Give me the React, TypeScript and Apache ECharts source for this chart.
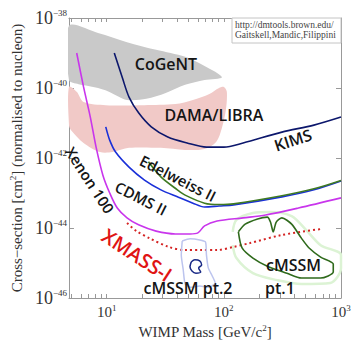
import React, { useEffect, useRef } from 'react';
import * as echarts from 'echarts';

// ---- axes ----
const X_MIN_GEV = 4.76;
const X_MAX_GEV = 1000;
const Y_MIN_EXP = -46;
const Y_MAX_EXP = -38;
const xLabelMasses = [10, 100, 1000];
const xTickMasses = [5, 6, 7, 8, 9, 10, 20, 30, 40, 50, 60, 70, 80, 90, 100, 200, 300, 400, 500, 600, 700, 800, 900, 1000];

// ---- regions (mass in GeV, log10 of cross-section in cm^2) ----
const cogentMass = [4.76, 8.43, 14.9, 26.4, 46.7, 68.4, 96.2, 68.4, 46.7, 31.9, 21.8, 14.9, 10.2, 8.43, 6.96, 5.75, 4.76];
const cogentLogSigma = [-38.23, -38.43, -38.69, -38.91, -39.11, -39.37, -39.69, -39.77, -39.91, -40.14, -40.31, -40.34, -40.09, -40.0, -39.94, -39.89, -39.77];

const damaMass = [4.76, 5.54, 6.34, 9.81, 21.0, 38.6, 54.4, 75.2, 90.9, 100, 106, 104, 96.2, 85.9, 68.4, 46.7, 29.0, 15.5, 11.2, 8.75, 6.34, 4.94, 4.76];
const damaLogSigma = [-39.97, -40.11, -40.4, -40.49, -40.49, -40.46, -40.34, -40.17, -40.0, -39.97, -40.11, -40.63, -41.14, -41.54, -41.74, -41.77, -41.71, -41.71, -41.83, -41.83, -41.57, -41.2, -41.06];

// ---- exclusion curves ----
const kimsMass = [11.6, 13.6, 15.5, 18.7, 24.0, 33.2, 48.5, 71.0, 100, 146, 313, 587, 1000];
const kimsLogSigma = [-39.0, -39.71, -40.26, -40.71, -41.11, -41.4, -41.57, -41.69, -41.69, -41.57, -41.26, -41.06, -40.83];

const xenonMass = [5.54, 6.34, 7.24, 8.11, 9.27, 10.6, 12.3, 14.9, 18.7, 26.4, 38.6, 51.4, 60.0, 68.4, 87.5, 146, 227, 433, 1000];
const xenonLogSigma = [-39.0, -39.97, -40.83, -41.69, -42.49, -43.0, -43.43, -43.71, -43.91, -44.09, -44.17, -44.17, -44.14, -43.94, -43.8, -43.71, -43.63, -43.43, -43.14];

const cdmsMass = [9.81, 10.6, 11.9, 15.5, 21.0, 29.0, 40.1, 54.4, 68.4, 90.9, 121, 313, 587, 1000];
const cdmsLogSigma = [-41.11, -41.49, -41.83, -42.26, -42.63, -42.91, -43.11, -43.29, -43.4, -43.37, -43.34, -43.11, -42.91, -42.66];

const edelweissMass = [22.7, 29.0, 40.1, 46.7, 68.4, 90.9, 121, 313, 587, 1000];
const edelweissLogSigma = [-42.11, -42.54, -42.91, -43.06, -43.29, -43.33, -43.31, -43.08, -42.88, -42.64];

const xmassMass = [14.9, 18.0, 23.1, 33.8, 46.7, 64.6, 87.5, 121, 167, 313, 670];
const xmassLogSigma = [-43.86, -44.09, -44.29, -44.54, -44.63, -44.63, -44.63, -44.54, -44.43, -44.2, -44.03];

// ---- cMSSM contours ----
const pt1Mass = [133, 152, 194, 235, 250, 264, 280, 313, 379, 459, 534, 670, 859, 859, 670, 459, 345, 235, 177, 143, 133];
const pt1LogSigma = [-44.11, -43.89, -43.74, -43.69, -43.83, -44.11, -43.83, -43.71, -43.89, -44.29, -44.57, -44.83, -45.03, -45.26, -45.43, -45.43, -45.29, -45.09, -44.86, -44.57, -44.11];

const pt1HaloMass = [119, 128, 177, 250, 379, 505, 670, 1000, 1000, 811, 459, 285, 177, 128, 119];
const pt1HaloLogSigma = [-44.11, -43.77, -43.57, -43.54, -43.66, -44.06, -44.49, -44.77, -45.14, -45.57, -45.6, -45.49, -45.29, -44.86, -44.49];

const pt2Mass = [44.1, 51.4, 62.2, 69.7, 71.0, 73.6, 79.6, 84.3, 75.2, 62.2, 51.4, 46.7, 45.0, 43.3, 44.1];
const pt2LogSigma = [-44.37, -44.31, -44.34, -44.4, -44.77, -45.14, -45.37, -45.57, -45.69, -45.66, -45.69, -45.6, -45.2, -44.77, -44.37];

const pt2CoreMass = [52.6, 56.5, 62.2, 64.6, 60.9, 63.4, 57.7, 53.4, 51.4, 52.6];
const pt2CoreLogSigma = [-44.97, -44.91, -44.94, -45.06, -45.14, -45.26, -45.29, -45.23, -45.11, -44.97];

const lg = Math.log10;
const toPts = (m: number[], s: number[]) => m.map((v, i) => [lg(v), s[i]]);

const SERIF = '"Liberation Serif", "Times New Roman", serif';
const SANS = '"Open Sans", "Noto Sans", sans-serif';

function regionSeries(name: string, pts: number[][], fill: string) {
  return {
    type: 'custom',
    name,
    silent: true,
    clip: true,
    data: [pts[0]],
    renderItem: (_p: any, api: any) => ({
      type: 'polygon',
      shape: { points: pts.map((p) => api.coord(p)), smooth: 0.3 },
      style: { fill, stroke: 'none' },
    }),
  };
}

function lineSeries(name: string, pts: number[][], color: string, width: number, type: any = 'solid', smooth = 0.3) {
  return {
    type: 'line',
    name,
    silent: true,
    data: pts,
    symbol: 'none',
    smooth,
    lineStyle: { color, width, type },
  };
}

const supRich = {
  b: { fontSize: 18, lineHeight: 19, fontFamily: SERIF, color: '#333' },
  s: { fontSize: 9, lineHeight: 10, fontFamily: SERIF, color: '#333', verticalAlign: 'top' },
};
const xSupRich = {
  b: { fontSize: 15, lineHeight: 17, fontFamily: SERIF, color: '#333' },
  s: { fontSize: 9, lineHeight: 10, fontFamily: SERIF, color: '#333', verticalAlign: 'top' },
};
const nameRich = {
  n: { fontSize: 15, lineHeight: 17, fontFamily: SERIF, color: '#333' },
  s: { fontSize: 9, lineHeight: 10, fontFamily: SERIF, color: '#333', verticalAlign: 'top' },
};

const deg = Math.PI / 180;

export default function App() {
  const ref = useRef<HTMLDivElement>(null);
  useEffect(() => {
    document.body.style.margin = '0';
    const chart = echarts.init(ref.current!, null, { renderer: 'svg' });
    const xAxisBase = {
      type: 'value',
      min: lg(X_MIN_GEV),
      max: lg(X_MAX_GEV),
      splitLine: { show: false },
      axisLine: { show: true, lineStyle: { color: '#999', width: 1 } },
      axisTick: {
        show: true,
        inside: true,
        length: 4,
        customValues: xTickMasses.map(lg),
        lineStyle: { color: '#999' },
      },
    };
    const yAxisBase = {
      type: 'value',
      min: Y_MIN_EXP,
      max: Y_MAX_EXP,
      interval: 2,
      splitLine: { show: false },
      axisLine: { show: true, lineStyle: { color: '#999', width: 1 } },
      axisTick: { show: true, inside: true, length: 5, lineStyle: { color: '#999' } },
    };
    const option: any = {
      animation: false,
      grid: { left: 60, top: 18, width: 281, height: 280 },
      xAxis: [
        {
          ...xAxisBase,
          position: 'bottom',
          name: '{n|WIMP Mass [GeV/c}{s|2}{n|]}',
          nameLocation: 'middle',
          nameGap: 23,
          nameTextStyle: { rich: nameRich },
          axisLabel: {
            customValues: xLabelMasses.map(lg),
            margin: 5,
            formatter: (v: number) => `{b|10}{s|${Math.round(v)}}`,
            rich: xSupRich,
          },
        },
        { ...xAxisBase, position: 'top', axisLabel: { show: false } },
      ],
      yAxis: [
        {
          ...yAxisBase,
          position: 'left',
          name: '{n|Cross\u2212section [cm}{s|2}{n|] (normalised to nucleon)}',
          nameLocation: 'middle',
          nameGap: 38,
          nameTextStyle: { rich: nameRich },
          axisLabel: {
            margin: 2,
            formatter: (v: number) => `{b|10}{s|\u2212${Math.abs(Math.round(v))}}`,
            rich: supRich,
          },
        },
        { ...yAxisBase, position: 'right', axisLabel: { show: false } },
      ],
      series: [
        regionSeries('CoGeNT', toPts(cogentMass, cogentLogSigma), '#c9c9c9'),
        regionSeries('DAMA/LIBRA', toPts(damaMass, damaLogSigma), '#f1c9c7'),
        lineSeries('cMSSM pt.1 halo', toPts(pt1HaloMass, pt1HaloLogSigma), '#dcf3d4', 2.5),
        lineSeries('KIMS', toPts(kimsMass, kimsLogSigma), '#0c176c', 1.6),
        lineSeries('Xenon 100', toPts(xenonMass, xenonLogSigma), '#c935ec', 1.6),
        lineSeries('CDMS II', toPts(cdmsMass, cdmsLogSigma), '#1a30d8', 1.6),
        lineSeries('Edelweiss II', toPts(edelweissMass, edelweissLogSigma), '#3f7a22', 1.6),
        lineSeries('XMASS-I', toPts(xmassMass, xmassLogSigma), '#d42424', 2, [2, 3]),
        lineSeries('cMSSM pt.2', toPts(pt2Mass, pt2LogSigma), '#bcc4ee', 1.5, 'solid', 0.2),
        lineSeries('cMSSM pt.2 core', toPts(pt2CoreMass, pt2CoreLogSigma), '#1a2a86', 1.5, 'solid', 0.3),
        lineSeries('cMSSM pt.1', toPts(pt1Mass, pt1LogSigma), '#2f6a1c', 1.6, 'solid', 0.25),
      ],
      graphic: [
        {
          type: 'rect', z: 50,
          shape: { x: 232, y: 18, width: 109, height: 25 },
          style: { fill: '#fff', stroke: '#c4c4c4', lineWidth: 1 },
        },
        {
          type: 'text', z: 100, x: 235, y: 20,
          style: {
            text: 'http://dmtools.brown.edu/\nGaitskell,Mandic,Filippini',
            fontFamily: SERIF, fontSize: 9.5, lineHeight: 10, fill: '#444',
          },
        },
        { type: 'text', z: 100, x: 166, y: 64, style: { text: 'CoGeNT', fontFamily: SANS, fontSize: 16, fontWeight: 600, fill: '#151515', align: 'center', verticalAlign: 'middle' } },
        { type: 'text', z: 100, x: 214, y: 115, style: { text: 'DAMA/LIBRA', fontFamily: SANS, fontSize: 16, fontWeight: 600, fill: '#151515', align: 'center', verticalAlign: 'middle' } },
        { type: 'text', z: 100, x: 293, y: 140, rotation: 18 * deg, style: { text: 'KIMS', fontFamily: SANS, fontSize: 16, fontWeight: 600, fill: '#151515', align: 'center', verticalAlign: 'middle' } },
        { type: 'text', z: 100, x: 178, y: 178, rotation: -27 * deg, style: { text: 'Edelweiss II', fontFamily: SANS, fontSize: 15, fontWeight: 600, fill: '#151515', align: 'center', verticalAlign: 'middle' } },
        { type: 'text', z: 100, x: 141, y: 198, rotation: -27 * deg, style: { text: 'CDMS II', fontFamily: SANS, fontSize: 15, fontWeight: 600, fill: '#151515', align: 'center', verticalAlign: 'middle' } },
        { type: 'text', z: 100, x: 90, y: 180, rotation: -57 * deg, style: { text: 'Xenon 100', fontFamily: SANS, fontSize: 15, fontWeight: 600, fill: '#151515', align: 'center', verticalAlign: 'middle' } },
        { type: 'text', z: 100, x: 137, y: 255, rotation: -33 * deg, style: { text: 'XMASS-I', fontFamily: SANS, fontSize: 20, fontWeight: 600, fill: '#e01414', align: 'center', verticalAlign: 'middle' } },
        { type: 'text', z: 100, x: 188, y: 288, style: { text: 'cMSSM pt.2', fontFamily: SANS, fontSize: 16, fontWeight: 600, fill: '#151515', align: 'center', verticalAlign: 'middle' } },
        { type: 'text', z: 100, x: 266, y: 265, style: { text: 'cMSSM', fontFamily: SANS, fontSize: 16, fontWeight: 600, fill: '#151515', align: 'left', verticalAlign: 'middle' } },
        { type: 'text', z: 100, x: 265, y: 288, style: { text: 'pt.1', fontFamily: SANS, fontSize: 16, fontWeight: 600, fill: '#151515', align: 'left', verticalAlign: 'middle' } },
      ],
    };
    chart.setOption(option);
    return () => chart.dispose();
  }, []);
  return <div ref={ref} style={{ width: 360, height: 350 }} />;
}
